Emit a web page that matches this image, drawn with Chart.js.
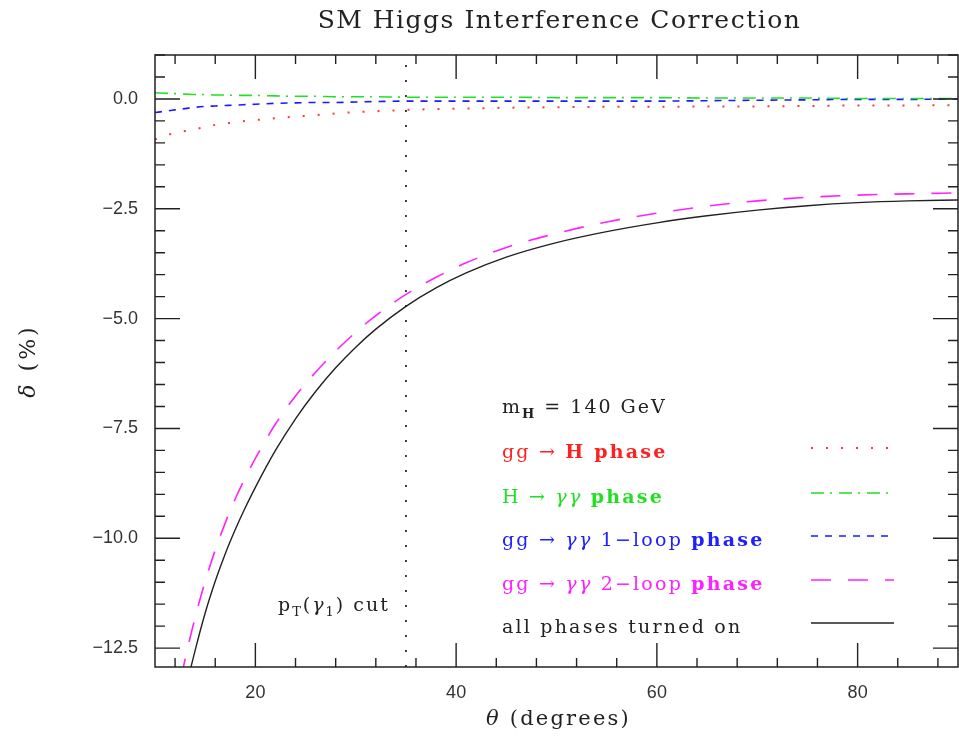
<!DOCTYPE html>
<html>
<head>
<meta charset="utf-8">
<script src="https://cdn.jsdelivr.net/npm/chart.js@4/dist/chart.umd.min.js"></script>
<style>
  html, body { margin: 0; padding: 0; background: #fff; }
  #chart { display: block; }
</style>
</head>
<body>
<canvas id="chart" width="959" height="739"></canvas>
<script>
// Angle theta (degrees) where each curve was read
const theta = [10, 11, 12, 13, 14, 15, 16, 17, 18, 19, 20, 22, 24, 26, 28, 30, 32, 35, 38, 41, 45, 50, 55, 60, 65, 70, 75, 80, 85, 90];

// delta (%) for every phase setting
const ggHPhase = [-0.92, -0.84, -0.77, -0.73, -0.69, -0.64, -0.59, -0.56, -0.53, -0.50, -0.48, -0.44, -0.40, -0.37, -0.33, -0.30, -0.28, -0.25, -0.23, -0.22, -0.20, -0.19, -0.18, -0.18, -0.17, -0.17, -0.16, -0.15, -0.15, -0.14];
const hGamGamPhase = [0.14, 0.13, 0.12, 0.11, 0.10, 0.10, 0.09, 0.09, 0.08, 0.08, 0.08, 0.07, 0.06, 0.06, 0.05, 0.05, 0.05, 0.04, 0.04, 0.04, 0.04, 0.03, 0.03, 0.03, 0.02, 0.02, 0.02, 0.01, 0.01, 0.01];
const oneLoopPhase = [-0.31, -0.28, -0.25, -0.22, -0.19, -0.17, -0.16, -0.15, -0.14, -0.13, -0.12, -0.10, -0.09, -0.08, -0.08, -0.07, -0.06, -0.05, -0.05, -0.05, -0.05, -0.05, -0.05, -0.05, -0.04, -0.03, -0.02, -0.01, -0.01, 0.0];
const twoLoopPhase = [-16.5, -15.1, -13.85, -12.75, -11.8, -10.98, -10.27, -9.65, -9.1, -8.62, -8.18, -7.4, -6.76, -6.22, -5.74, -5.31, -4.93, -4.45, -4.06, -3.73, -3.38, -3.06, -2.8, -2.6, -2.44, -2.32, -2.24, -2.19, -2.16, -2.14];
const allPhases = [-17.3, -15.85, -14.6, -13.5, -12.55, -11.7, -10.98, -10.35, -9.8, -9.3, -8.84, -8.0, -7.28, -6.66, -6.12, -5.65, -5.24, -4.72, -4.3, -3.96, -3.6, -3.27, -3.02, -2.82, -2.66, -2.53, -2.43, -2.36, -2.32, -2.30];

// pT(gamma1) cut position
const ptCut = 35;

// axes
const xRange = [10, 90];
const yRange = [-12.93, 1.0];
const xMajorTicks = [20, 40, 60, 80];
const yMajorTicks = [0, -2.5, -5, -7.5, -10, -12.5];

const FONT_SERIF = "'DejaVu Serif', serif";
const FONT_SANS = "'Liberation Sans', Arial, sans-serif";
const INK = '#222';

// line styles per series
const STYLE = {
  ggH:    { color: 'rgba(255, 20, 20, 0.85)', dash: [2, 13],         width: 2 },
  hgg:    { color: '#22e022',                 dash: [13, 6, 2, 7],   width: 1.6 },
  loop1:  { color: '#1a1aff',                 dash: [7, 7],          width: 1.6 },
  loop2:  { color: '#ff22ff',                 dash: [20, 17],        width: 1.6 },
  all:    { color: '#222',                    dash: [],              width: 1.4 }
};

function series(values, st) {
  return {
    data: theta.map((t, i) => ({ x: t, y: values[i] })),
    borderColor: st.color,
    borderDash: st.dash,
    borderWidth: st.width,
    pointRadius: 0,
    fill: false,
    cubicInterpolationMode: 'monotone'
  };
}

// rich text: segments [text, {bold, italic, sub}]
function drawRich(ctx, parts, x, y, color, size, spacing) {
  ctx.fillStyle = color;
  ctx.textAlign = 'left';
  ctx.textBaseline = 'alphabetic';
  ctx.letterSpacing = spacing + 'px';
  let cx = x;
  parts.forEach(([t, o = {}]) => {
    const sz = o.sub ? Math.round(size * 0.68) : size;
    ctx.font = `${o.italic ? 'italic ' : ''}${o.bold ? 'bold ' : ''}${sz}px ${FONT_SERIF}`;
    ctx.fillText(t, cx, y + (o.sub ? 5 : 0));
    cx += ctx.measureText(t).width;
  });
  ctx.letterSpacing = '0px';
  return cx - x;
}

function richWidth(ctx, parts, size, spacing) {
  ctx.save();
  ctx.letterSpacing = spacing + 'px';
  let w = 0;
  parts.forEach(([t, o = {}]) => {
    const sz = o.sub ? Math.round(size * 0.68) : size;
    ctx.font = `${o.italic ? 'italic ' : ''}${o.bold ? 'bold ' : ''}${sz}px ${FONT_SERIF}`;
    w += ctx.measureText(t).width;
  });
  ctx.restore();
  return w;
}

const legendRows = [
  { parts: [['gg → '], ['H phase', { bold: true }]], color: '#ff2020', style: STYLE.ggH },
  { parts: [['H → '], ['γγ', { italic: true }], [' '], ['phase', { bold: true }]], color: '#20e020', style: STYLE.hgg },
  { parts: [['gg → '], ['γγ', { italic: true }], [' 1−loop '], ['phase', { bold: true }]], color: '#2020ff', style: STYLE.loop1 },
  { parts: [['gg → '], ['γγ', { italic: true }], [' 2−loop '], ['phase', { bold: true }]], color: '#ff20ff', style: STYLE.loop2 },
  { parts: [['all phases turned on']], color: INK, style: STYLE.all }
];

const framePlugin = {
  id: 'frame',
  afterDraw(chart) {
    const ctx = chart.ctx;
    const { left, right, top, bottom } = chart.chartArea;
    const xs = chart.scales.x, ys = chart.scales.y;
    ctx.save();

    // frame
    ctx.strokeStyle = INK;
    ctx.lineWidth = 1.5;
    ctx.setLineDash([]);
    ctx.strokeRect(left, top, right - left, bottom - top);

    // inward ticks on all four sides
    ctx.lineWidth = 1.4;
    ctx.beginPath();
    for (let v = 12; v <= 88; v += 4) {
      const px = xs.getPixelForValue(v);
      const len = v % 20 === 0 ? 24 : 9;
      ctx.moveTo(px, bottom); ctx.lineTo(px, bottom - len);
      ctx.moveTo(px, top); ctx.lineTo(px, top + len);
    }
    for (let k = -25; k <= 2; k++) {
      const v = k * 0.5;
      const py = ys.getPixelForValue(v);
      const len = k % 5 === 0 ? 25 : 10;
      ctx.moveTo(left, py); ctx.lineTo(left + len, py);
      ctx.moveTo(right, py); ctx.lineTo(right - len, py);
    }
    ctx.stroke();

    // title
    const titleParts = [['SM Higgs Interference Correction']];
    const tw = richWidth(ctx, titleParts, 25, 1.5);
    drawRich(ctx, titleParts, (left + right) / 2 + 3 - tw / 2, 28, INK, 25, 1.5);

    // x axis title
    const xtParts = [['θ', { italic: true }], [' (degrees)']];
    const xw = richWidth(ctx, xtParts, 21, 2.2);
    drawRich(ctx, xtParts, (left + right) / 2 + 2 - xw / 2, 725, INK, 21, 2.2);

    // y axis title, rotated
    ctx.save();
    ctx.translate(28, (top + bottom) / 2);
    ctx.rotate(-Math.PI / 2);
    const ytParts = [['δ', { italic: true }], [' (%)']];
    const yw = richWidth(ctx, ytParts, 22, 3);
    drawRich(ctx, ytParts, -yw / 2, 7, INK, 22, 3);
    ctx.restore();

    // pT cut label
    drawRich(ctx, [['p'], ['T', { sub: true }], ['('], ['γ', { italic: true }], ['1', { sub: true }], [') cut']], 278, 611, INK, 19, 2);

    // legend
    drawRich(ctx, [['m'], ['H', { sub: true, bold: true }], [' = 140 GeV']], 502, 413, INK, 19, 2);
    const baselines = [458, 503, 546, 590, 633];
    const sampleY = [448, 493, 536, 580, 623];
    legendRows.forEach((row, i) => {
      drawRich(ctx, row.parts, 502, baselines[i], row.color, 19, 2.2);
      ctx.strokeStyle = row.style.color;
      ctx.lineWidth = row.style.width;
      ctx.setLineDash(row.style.dash);
      ctx.beginPath();
      ctx.moveTo(811, sampleY[i]);
      ctx.lineTo(894, sampleY[i]);
      ctx.stroke();
    });
    ctx.setLineDash([]);
    ctx.restore();
  }
};

const fmtY = v => (v === 0 ? '0.0' : (v < 0 ? '−' : '') + Math.abs(v).toFixed(1));

new Chart(document.getElementById('chart').getContext('2d'), {
  type: 'line',
  data: {
    datasets: [
      series(ggHPhase, STYLE.ggH),
      series(hGamGamPhase, STYLE.hgg),
      series(oneLoopPhase, STYLE.loop1),
      series(allPhases, STYLE.all),
      series(twoLoopPhase, STYLE.loop2),
      {
        data: [{ x: ptCut, y: yRange[0] }, { x: ptCut, y: yRange[1] }],
        borderColor: '#111',
        borderDash: [2, 13],
        borderWidth: 1.6,
        pointRadius: 0,
        fill: false
      }
    ]
  },
  options: {
    responsive: false,
    animation: false,
    layout: { padding: { top: 55, right: 1, left: 0, bottom: 0 } },
    plugins: {
      legend: { display: false },
      tooltip: { enabled: false },
      title: { display: false }
    },
    scales: {
      x: {
        type: 'linear',
        min: xRange[0],
        max: xRange[1],
        grid: { display: false },
        border: { display: false },
        afterBuildTicks: s => { s.ticks = xMajorTicks.map(v => ({ value: v })); },
        afterFit: s => { s.height = 72; },
        ticks: {
          padding: 7,
          color: '#333',
          autoSkip: false,
          maxRotation: 0,
          font: { family: FONT_SANS, size: 18 },
          callback: v => String(v)
        }
      },
      y: {
        type: 'linear',
        min: yRange[0],
        max: yRange[1],
        grid: { display: false },
        border: { display: false },
        afterBuildTicks: s => { s.ticks = yMajorTicks.map(v => ({ value: v })); },
        afterFit: s => { s.width = 155; },
        ticks: {
          padding: 9,
          color: '#333',
          autoSkip: false,
          font: { family: FONT_SANS, size: 18 },
          callback: v => fmtY(v)
        }
      }
    }
  },
  plugins: [framePlugin]
});
</script>
</body>
</html>
